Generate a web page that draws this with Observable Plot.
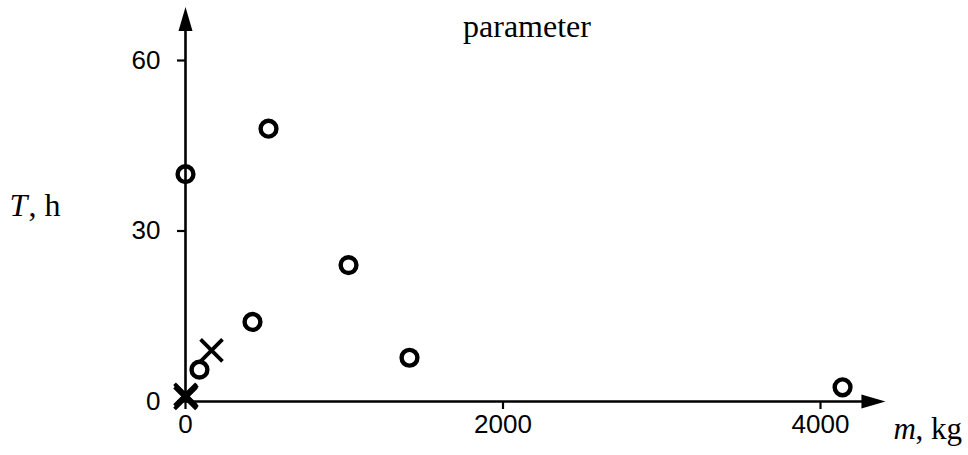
<!DOCTYPE html>
<html><head><meta charset="utf-8">
<script src="https://cdn.jsdelivr.net/npm/d3@7"></script>
<script src="https://cdn.jsdelivr.net/npm/@observablehq/plot@0.6"></script>
<style>
html,body{margin:0;padding:0;background:#fff}
</style>
</head><body><div id="chart"></div>
<script>
// ---- data ----
const circleMass  = [0, 88, 422, 523, 1027, 1411, 4139];   // kg
const circleHours = [40, 5.6, 14, 48, 24, 7.7, 2.5];       // h
const crossMass   = [0, 0, 6, 164];                        // kg
const crossHours  = [0.6, 1.2, 0.9, 9];                    // h
const xTicks = [0, 2000, 4000];
const yTicks = [0, 30, 60];
const titleText = "parameter";
const yLabelItalic = "T", yLabelRest = ", h";
const xLabelItalic = "m", xLabelRest = ", kg";

// axis extents (arrow tips)
const xEnd = 4409, yEnd = 69.4;

const circles = circleMass.map((m, i) => ({m, T: circleHours[i]}));
const crosses = crossMass.map((m, i) => ({m, T: crossHours[i]}));

const arrowUp = {draw(ctx){ctx.moveTo(0,0);ctx.lineTo(-7,24);ctx.lineTo(7,24);ctx.closePath();}};
const arrowRight = {draw(ctx){ctx.moveTo(0,0);ctx.lineTo(-24,-7);ctx.lineTo(-24,7);ctx.closePath();}};

const sans = "Liberation Sans, Arial, sans-serif";
const serif = "Liberation Serif, Times New Roman, serif";

const chart = Plot.plot({
  width: 968,
  height: 455,
  marginLeft: 185,
  marginRight: 148,
  marginTop: 60,
  marginBottom: 54,
  style: {fontFamily: sans, fontSize: "26px", color: "#000", background: "#fff"},
  x: {domain: [0, 4000]},
  y: {domain: [0, 60]},
  marks: [
    Plot.axisX(xTicks, {tickSize: 8, tickPadding: 5, tickFormat: d3.format("d"), fontSize: 26, fontFamily: sans, strokeWidth: 2.2, label: null}),
    Plot.axisY(yTicks, {tickSize: 8, tickPadding: 17, tickFormat: d3.format("d"), fontSize: 26, fontFamily: sans, strokeWidth: 2.2, label: null}),
    Plot.ruleX([0], {y1: 0, y2: yEnd - 2, strokeWidth: 2.6}),
    Plot.ruleY([0], {x1: 0, x2: xEnd - 80, strokeWidth: 2.6}),
    Plot.dot([{x: 0, y: yEnd}], {x: "x", y: "y", symbol: arrowUp, fill: "#000", stroke: "none"}),
    Plot.dot([{x: xEnd, y: 0}], {x: "x", y: "y", symbol: arrowRight, fill: "#000", stroke: "none"}),
    Plot.dot(circles, {x: "m", y: "T", r: 7.9, stroke: "#000", strokeWidth: 4.4, fill: "none"}),
    Plot.dot(crosses, {x: "m", y: "T", symbol: "times", r: 10, stroke: "#000", strokeWidth: 3.8}),
    Plot.text([titleText], {frameAnchor: "top", lineAnchor: "middle", dx: 24, dy: -34, fontFamily: serif, fontSize: 32, fill: "#000"}),
    Plot.text([yLabelItalic], {frameAnchor: "left", textAnchor: "start", dx: -176, dy: -25, fontFamily: serif, fontStyle: "italic", fontSize: 32, fill: "#000"}),
    Plot.text([yLabelRest], {frameAnchor: "left", textAnchor: "start", dx: -157, dy: -25, fontFamily: serif, fontSize: 32, fill: "#000"}),
    Plot.text([xLabelItalic], {frameAnchor: "bottom-right", textAnchor: "start", dx: 73, dy: 37, fontFamily: serif, fontStyle: "italic", fontSize: 31, fill: "#000"}),
    Plot.text([xLabelRest], {frameAnchor: "bottom-right", textAnchor: "start", dx: 95, dy: 37, fontFamily: serif, fontSize: 31, fill: "#000"})
  ]
});
document.getElementById("chart").append(chart);
</script>
</body></html>
